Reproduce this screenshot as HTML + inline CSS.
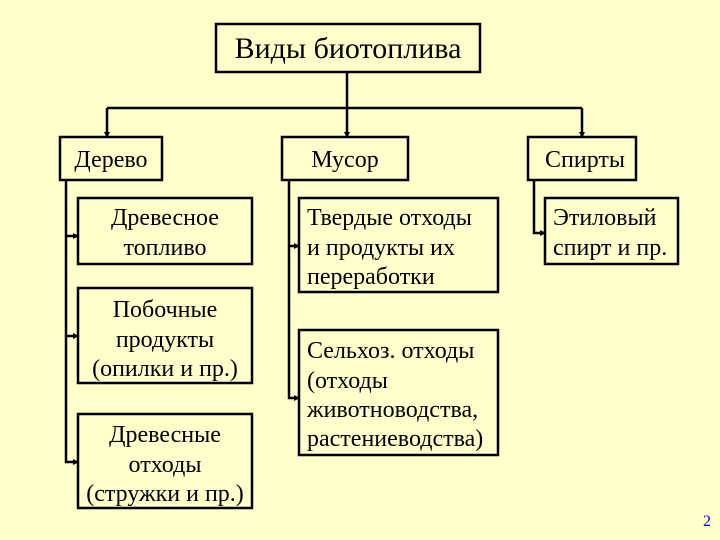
<!DOCTYPE html>
<html><head><meta charset="utf-8"><style>
html,body{margin:0;padding:0;background:#ffffcc;}
svg{display:block}
text{font-family:"Liberation Serif",serif;fill:#000;}
</style></head><body>
<svg width="720" height="540" xmlns="http://www.w3.org/2000/svg">
<defs><marker id="a" markerWidth="6" markerHeight="6" refX="5" refY="3" orient="auto" markerUnits="userSpaceOnUse"><path d="M0,0 L6,3 L0,6 z" fill="#000"/></marker></defs>
<rect width="720" height="540" fill="#ffffcc"/>
<g fill="none" stroke="#000" stroke-width="2.5">
<rect x="216" y="24" width="264" height="48"/>
<rect x="60" y="137" width="102" height="43"/>
<rect x="282" y="137" width="126" height="43"/>
<rect x="528" y="137" width="108" height="43"/>
<rect x="78" y="198" width="174" height="66"/>
<rect x="78" y="288" width="174" height="95"/>
<rect x="78" y="414" width="174" height="94"/>
<rect x="299" y="198" width="199" height="94"/>
<rect x="299" y="330" width="199" height="125"/>
<rect x="545" y="198" width="133" height="66"/>
<path d="M347,72 V137" marker-end="url(#a)"/>
<path d="M107,108 H582"/>
<path d="M107,108 V137" marker-end="url(#a)"/>
<path d="M582,108 V137" marker-end="url(#a)"/>
<path d="M66,180 V462 H78" marker-end="url(#a)"/>
<path d="M66,236 H78" marker-end="url(#a)"/>
<path d="M66,336 H78" marker-end="url(#a)"/>
<path d="M289,180 V398 H299" marker-end="url(#a)"/>
<path d="M289,246 H299" marker-end="url(#a)"/>
<path d="M534,180 V233 H545" marker-end="url(#a)"/>
</g>
<g font-size="24" text-anchor="middle">
<text x="348" y="58" font-size="30">Виды биотоплива</text>
<text x="111" y="167">Дерево</text>
<text x="345" y="167">Мусор</text>
<text x="585" y="167">Спирты</text>
<text x="165" y="225">Древесное</text>
<text x="165" y="255">топливо</text>
<text x="165" y="317">Побочные</text>
<text x="165" y="347">продукты</text>
<text x="165" y="376">(опилки и пр.)</text>
<text x="165" y="442">Древесные</text>
<text x="165" y="472">отходы</text>
<text x="165" y="501">(стружки и пр.)</text>
</g>
<g font-size="24">
<text x="307" y="225">Твердые отходы</text>
<text x="307" y="255">и продукты их</text>
<text x="307" y="284">переработки</text>
<text x="307" y="358">Сельхоз. отходы</text>
<text x="307" y="388">(отходы</text>
<text x="307" y="417">животноводства,</text>
<text x="307" y="446">растениеводства)</text>
<text x="553" y="225">Этиловый</text>
<text x="553" y="255">спирт и пр.</text>
<text x="703" y="526" font-size="16" style="fill:#0000cc">2</text>
</g>
</svg>
</body></html>
